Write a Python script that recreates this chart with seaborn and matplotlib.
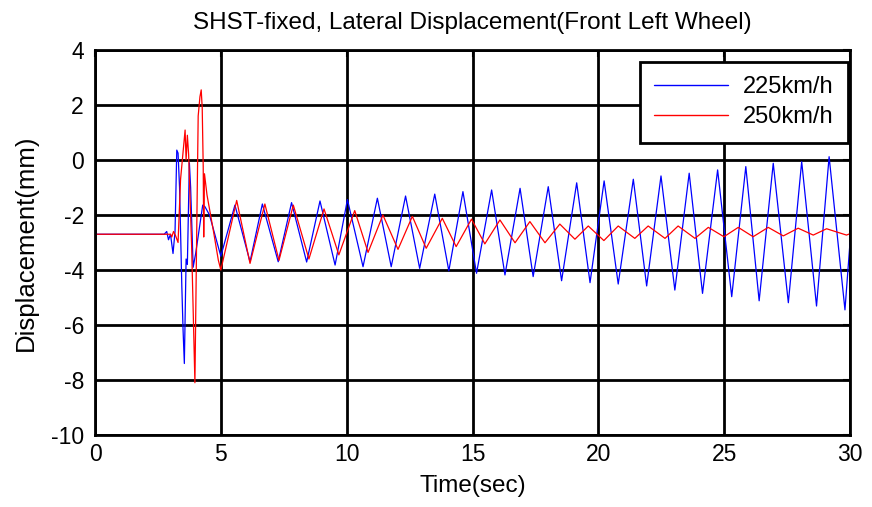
import matplotlib
matplotlib.use("Agg")
import matplotlib.pyplot as plt
import seaborn as sns
import pandas as pd

# ---- data ----
t_225 = [0.0, 2.75, 2.85, 2.92, 3.0, 3.1, 3.18, 3.25, 3.3, 3.36, 3.45, 3.5, 3.55,
         3.62, 3.67, 3.75, 3.8, 3.9, 4.0, 4.28, 4.37, 4.55, 5.0,
         5.56, 6.16, 6.65, 7.28, 7.81, 8.41, 8.94, 9.54, 10.03, 10.65, 11.22, 11.77,
         12.34, 12.90, 13.50, 14.06, 14.62, 15.16, 15.76, 16.29, 16.89, 17.41,
         18.01, 18.54, 19.14, 19.67, 20.23, 20.79, 21.39, 21.92, 22.49, 23.04,
         23.61, 24.14, 24.74, 25.30, 25.86, 26.39, 26.95, 27.55, 28.08, 28.67,
         29.17, 29.80, 30.0]
y_225 = [-2.7, -2.7, -2.6, -2.9, -2.7, -3.4, -2.6, 0.36, 0.25, -1.0, -4.6, -6.2, -7.4,
         -3.6, -3.8, -0.1, -1.0, -3.9, -3.4, -1.64, -1.7, -2.0, -3.5,
         -1.64, -3.70, -1.60, -3.70, -1.55, -3.71, -1.49, -3.82, -1.44, -3.88, -1.39, -3.88,
         -1.31, -3.94, -1.24, -4.03, -1.15, -4.12, -1.09, -4.18, -1.03, -4.24,
         -0.97, -4.39, -0.83, -4.46, -0.76, -4.51, -0.70, -4.58, -0.58, -4.73,
         -0.48, -4.85, -0.36, -4.97, -0.24, -5.12, -0.12, -5.19, -0.06, -5.31,
         0.12, -5.45, -3.0]

t_250 = [0.0, 3.0, 3.05, 3.12, 3.2, 3.3, 3.4, 3.58, 3.62, 3.67, 3.72, 3.84, 3.97,
         4.05, 4.1, 4.17, 4.22, 4.26, 4.3, 4.32, 4.35, 4.45, 4.7, 4.9, 5.0,
         5.63, 6.16, 6.75, 7.31, 7.88, 8.50, 9.10, 9.69, 10.32, 10.85, 11.44, 12.04,
         12.61, 13.16, 13.80, 14.35, 14.96, 15.49, 16.09, 16.69, 17.28, 17.88,
         18.47, 19.07, 19.60, 20.22, 20.79, 21.45, 21.98, 22.65, 23.17, 23.84,
         24.37, 24.99, 25.56, 26.15, 26.75, 27.35, 27.94, 28.54, 29.07, 29.86, 30.0]
y_250 = [-2.7, -2.7, -2.8, -2.6, -2.75, -3.0, -0.7, 1.09, 0.0, 0.9, 0.2, -3.15, -8.1,
         -2.0, 1.6, 2.3, 2.55, 1.9, -0.24, -2.8, -0.5, -1.27, -2.55, -3.64, -4.0,
         -1.47, -3.76, -1.60, -3.65, -1.64, -3.60, -1.78, -3.45, -1.84, -3.36, -2.0, -3.25,
         -2.05, -3.21, -2.12, -3.15, -2.15, -3.05, -2.18, -3.01, -2.24, -3.01,
         -2.33, -2.88, -2.40, -2.93, -2.40, -2.85, -2.40, -2.85, -2.40, -2.85,
         -2.45, -2.79, -2.45, -2.79, -2.45, -2.76, -2.48, -2.73, -2.50, -2.73, -2.68]

series_names = ["225km/h", "250km/h"]
x_ticks = [0, 5, 10, 15, 20, 25, 30]
y_ticks = [-10, -8, -6, -4, -2, 0, 2, 4]

df = pd.concat([
    pd.DataFrame({"Time": t_225, "Disp": y_225, "Speed": series_names[0]}),
    pd.DataFrame({"Time": t_250, "Disp": y_250, "Speed": series_names[1]}),
], ignore_index=True)

sns.set_style("white")
plt.rcParams["font.family"] = ["Liberation Sans", "DejaVu Sans"]
plt.rcParams["text.color"] = "black"
plt.rcParams["axes.labelcolor"] = "black"
plt.rcParams["xtick.color"] = "black"
plt.rcParams["ytick.color"] = "black"

fig = plt.figure(figsize=(8.72, 5.07), dpi=100)
ax = fig.add_axes([95 / 872, 1 - 435 / 507, 755 / 872, 385 / 507])

sns.lineplot(data=df, x="Time", y="Disp", hue="Speed", hue_order=series_names,
             palette=["#0000ff", "#ff0000"], sort=False, estimator=None,
             linewidth=0.9, ax=ax)

ax.set_xlim(0, 30)
ax.set_ylim(-10, 4)
ax.set_xticks(x_ticks)
ax.set_yticks(y_ticks)
ax.set_xticklabels([str(v) for v in x_ticks])
ax.set_yticklabels([str(v) for v in y_ticks])
ax.grid(True, color="black", linewidth=2.0, linestyle="-")
ax.set_axisbelow(True)
for s in ax.spines.values():
    s.set_color("black")
    s.set_linewidth(2.0)
    s.set_visible(True)
ax.tick_params(axis="both", direction="in", length=5, width=1.5, labelsize=16.5,
               colors="black", labelcolor="black", top=True, right=True)
ax.tick_params(axis="x", pad=6)
ax.tick_params(axis="y", pad=8)

ax.set_title("SHST-fixed, Lateral Displacement(Front Left Wheel)", fontsize=17.5,
             pad=15, color="black")
ax.set_xlabel("Time(sec)", fontsize=17.5, labelpad=6, color="black")
ax.set_ylabel("Displacement(mm)", fontsize=18.5, labelpad=9, color="black")

leg = ax.legend(loc="upper right", fontsize=17, frameon=True, fancybox=False,
                edgecolor="black", framealpha=1, handlelength=3.1,
                borderpad=0.6, labelspacing=0.35, handletextpad=0.65,
                borderaxespad=0, bbox_to_anchor=(0.997, 0.969))
leg.get_frame().set_linewidth(2.0)
for line in leg.get_lines():
    line.set_linewidth(1.0)
for txt in leg.get_texts():
    txt.set_color("black")

fig.savefig("out.png", dpi=100, facecolor="white")
